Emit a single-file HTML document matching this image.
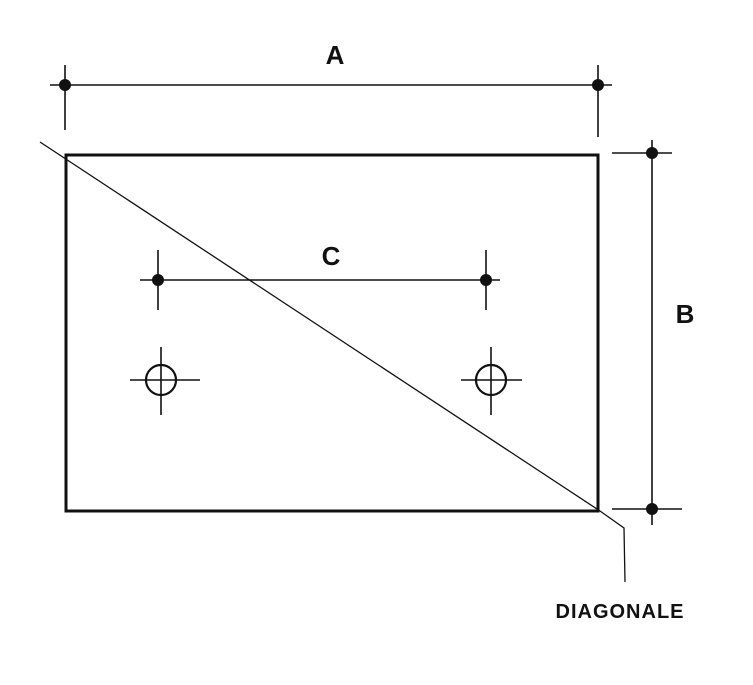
<!DOCTYPE html>
<html><head><style>body{margin:0;background:#fff}svg{display:block}</style></head><body>
<svg width="753" height="685" viewBox="0 0 753 685" xmlns="http://www.w3.org/2000/svg">
<g stroke="#111" fill="none">
<rect x="66" y="155" width="532" height="356" stroke-width="3"/>
<polyline points="40,142 600,511 624,528 625,582" stroke-width="1.3"/>
<g stroke-width="1.6">
<line x1="50" y1="85" x2="612" y2="85"/>
<line x1="65" y1="65" x2="65" y2="130"/>
<line x1="598" y1="65" x2="598" y2="137"/>
<line x1="652" y1="140" x2="652" y2="525"/>
<line x1="612" y1="153" x2="672" y2="153"/>
<line x1="612" y1="509" x2="682" y2="509"/>
<line x1="140" y1="280" x2="500" y2="280"/>
<line x1="158" y1="250" x2="158" y2="310"/>
<line x1="486" y1="250" x2="486" y2="310"/>
<line x1="130" y1="380" x2="200" y2="380"/>
<line x1="161" y1="347" x2="161" y2="415"/>
<line x1="461" y1="380" x2="522" y2="380"/>
<line x1="491" y1="347" x2="491" y2="415"/>
</g>
<circle cx="161" cy="380" r="15" stroke-width="2.2"/>
<circle cx="491" cy="380" r="15" stroke-width="2.2"/>
</g>
<g fill="#111">
<circle cx="65" cy="85" r="6"/><circle cx="598" cy="85" r="6"/>
<circle cx="652" cy="153" r="6"/><circle cx="652" cy="509" r="6"/>
<circle cx="158" cy="280" r="6"/><circle cx="486" cy="280" r="6"/>
</g>
<g font-family="Liberation Sans, sans-serif" font-weight="bold" fill="#111" text-anchor="middle">
<text x="335" y="64" font-size="26">A</text>
<text x="331" y="265" font-size="26">C</text>
<text x="685" y="323" font-size="26">B</text>
<text x="620" y="618" font-size="20" letter-spacing="1">DIAGONALE</text>
</g>
</svg>
</body></html>
